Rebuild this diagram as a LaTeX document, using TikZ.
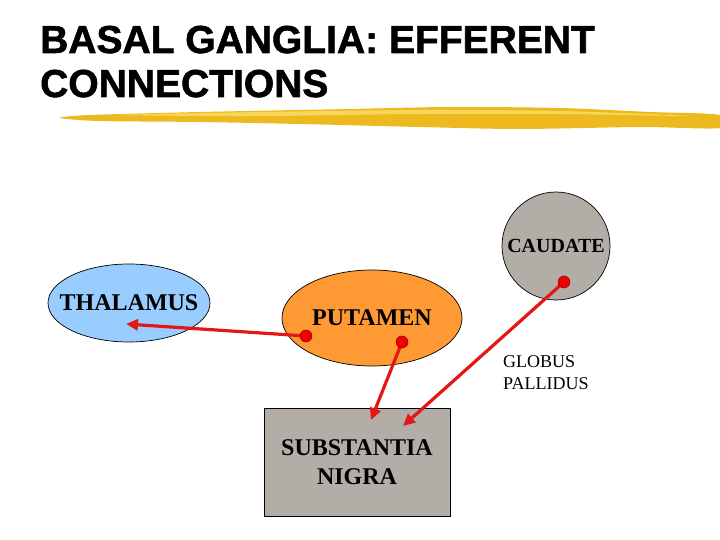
\documentclass[tikz,border=0pt]{standalone}
\usepackage{fontspec}
\setmainfont{Liberation Serif}
\newfontfamily\titlefont{Liberation Sans}[BoldFeatures={FakeBold=1.5}]
\usepackage{tikz}
\usetikzlibrary{shapes.geometric,arrows.meta}

\definecolor{thalblue}{RGB}{153,204,255}
\definecolor{putorange}{RGB}{255,153,51}
\definecolor{greybox}{RGB}{178,173,166}
\definecolor{linkred}{RGB}{228,22,22}
\definecolor{pinred}{RGB}{240,0,0}
\definecolor{brushdark}{RGB}{236,186,30}
\definecolor{brushlight}{RGB}{248,214,90}

\begin{document}
\begin{tikzpicture}[x=1pt,y=-1pt,
	region/.style={draw=black, line width=0.7pt, inner sep=0pt},
	lbl/.style={font=\bfseries\fontsize{24}{29}\selectfont, align=center},
	link/.style={draw=linkred, line width=3.2pt, -{Triangle[length=12pt,width=11pt]}},
	pin/.style={circle, fill=pinred, draw=red!55!black, line width=0.5pt, inner sep=0pt, minimum size=12pt}]

	\useasboundingbox (0,0) rectangle (720,540);

	% title and brush stroke
	\node[anchor=base west, inner sep=0pt, font=\titlefont\bfseries\fontsize{39}{44}\selectfont] (title1) at (40,53) {BASAL GANGLIA: EFFERENT};
	\node[anchor=base west, inner sep=0pt, font=\titlefont\bfseries\fontsize{39}{44}\selectfont] (title2) at (40,97) {CONNECTIONS};
	\fill[brushdark] plot[smooth cycle] coordinates {(60,118) (90,115) (200,112) (350,109) (450,107) (560,108) (650,112) (720,115)
		(720,128) (640,127) (520,129) (420,127) (300,124) (200,122) (100,121)};
	\fill[brushlight] plot[smooth cycle] coordinates {(120,115) (260,112) (420,110) (560,111) (690,116) (560,114) (420,114) (260,116)};

	% regions
	\node[region, ellipse, fill=thalblue, lbl, minimum width=162pt, minimum height=78pt] (thalamus) at (129,303) {\makebox[0pt]{THALAMUS}};
	\node[region, ellipse, fill=putorange, lbl, minimum width=180pt, minimum height=96pt] (putamen) at (372,318) {\makebox[0pt]{PUTAMEN}};
	\node[region, circle, fill=greybox, lbl, font=\bfseries\fontsize{20}{22}\selectfont, minimum size=108pt] (caudate) at (556,246) {CAUDATE};
	\node[region, rectangle, fill=greybox, lbl, minimum width=186pt, minimum height=108pt] (nigra) at (357,462) {SUBSTANTIA\\NIGRA};
	\node[anchor=north west, inner sep=0pt, align=left, font=\fontsize{18}{22}\selectfont] (globus) at (503,355) {GLOBUS\\PALLIDUS};

	% connector ends
	\coordinate (putLeft) at (306,336);
	\coordinate (putLow) at (402,342);
	\coordinate (caudLow) at (564,282);
	\coordinate (thalEnd) at (126,324);
	\coordinate (nigraA) at (371,420);
	\coordinate (nigraB) at (403,426);

	\path (putLeft) edge[link] (thalEnd);
	\path (putLow) edge[link] (nigraA);
	\path (caudLow) edge[link] (nigraB);

	\node[pin] (pin1) at (putLeft) {};
	\node[pin] (pin2) at (putLow) {};
	\node[pin] (pin3) at (caudLow) {};

\end{tikzpicture}
\end{document}
